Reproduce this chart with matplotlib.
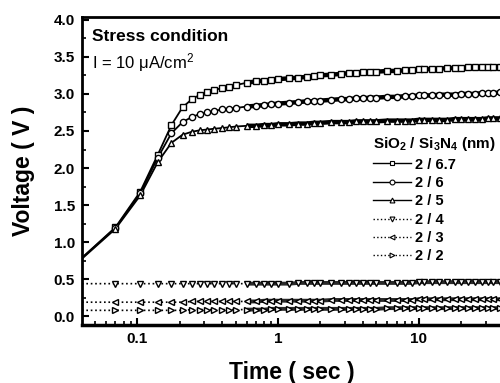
import matplotlib
matplotlib.use("Agg")
import matplotlib.pyplot as plt
from matplotlib.ticker import FixedLocator, MultipleLocator, LogLocator, NullFormatter, FuncFormatter
from matplotlib.lines import Line2D

plt.rcParams['font.family'] = ['Liberation Sans', 'DejaVu Sans']
plt.rcParams['mathtext.fontset'] = 'custom'
plt.rcParams['mathtext.rm'] = 'Liberation Sans'
plt.rcParams['mathtext.bf'] = 'Liberation Sans:bold'
plt.rcParams['mathtext.it'] = 'Liberation Sans:italic'

# ---- data ----
time_s = [0.035, 0.07, 0.105, 0.14, 0.175, 0.21, 0.245, 0.28, 0.315, 0.35, 0.4, 0.45, 0.5,
          0.6, 0.7, 0.8, 0.9, 1.0, 1.2, 1.4, 1.6, 1.8, 2.0, 2.4, 2.8, 3.2, 3.6, 4.0, 4.5, 5,
          6, 7, 8, 9, 10, 11, 12.5, 14, 16, 18, 20, 22.5, 25, 28, 31, 34, 38]

v_2_67 = [0.68, 1.20, 1.68, 2.18, 2.58, 2.82, 2.93, 2.99, 3.02, 3.05, 3.08, 3.10, 3.12,
          3.15, 3.17, 3.18, 3.19, 3.20, 3.21, 3.22, 3.23, 3.24, 3.25, 3.26, 3.27, 3.28, 3.28, 3.29, 3.29, 3.30,
          3.31, 3.31, 3.32, 3.32, 3.33, 3.33, 3.34, 3.34, 3.35, 3.35, 3.35, 3.36, 3.36, 3.36, 3.37, 3.37, 3.37]
v_2_6 = [0.68, 1.19, 1.66, 2.14, 2.47, 2.62, 2.69, 2.73, 2.75, 2.77, 2.79, 2.80, 2.81,
         2.83, 2.84, 2.85, 2.86, 2.87, 2.88, 2.89, 2.90, 2.90, 2.91, 2.92, 2.93, 2.93, 2.94, 2.94, 2.95, 2.95,
         2.96, 2.96, 2.97, 2.97, 2.98, 2.98, 2.98, 2.99, 2.99, 2.99, 3.00, 3.00, 3.00, 3.01, 3.01, 3.01, 3.02]
v_2_5 = [0.67, 1.18, 1.63, 2.08, 2.34, 2.45, 2.49, 2.51, 2.52, 2.53, 2.54, 2.55, 2.56,
         2.57, 2.57, 2.58, 2.58, 2.59, 2.59, 2.60, 2.60, 2.61, 2.61, 2.62, 2.62, 2.62, 2.63, 2.63, 2.63, 2.63,
         2.64, 2.64, 2.64, 2.64, 2.65, 2.65, 2.65, 2.65, 2.65, 2.66, 2.66, 2.66, 2.66, 2.66, 2.67, 2.67, 2.67]
v_2_4 = [0.44, 0.44, 0.44, 0.44, 0.44, 0.44, 0.44, 0.44, 0.44, 0.44, 0.44, 0.44, 0.44,
         0.44, 0.44, 0.44, 0.44, 0.44, 0.44, 0.45, 0.45, 0.45, 0.45, 0.45, 0.45, 0.45, 0.45, 0.45, 0.45, 0.45,
         0.45, 0.45, 0.45, 0.45, 0.46, 0.46, 0.46, 0.46, 0.46, 0.46, 0.46, 0.46, 0.46, 0.46, 0.46, 0.46, 0.46]
v_2_3 = [0.19, 0.19, 0.19, 0.19, 0.19, 0.19, 0.20, 0.20, 0.20, 0.20, 0.20, 0.20, 0.20,
         0.20, 0.20, 0.21, 0.21, 0.21, 0.21, 0.21, 0.21, 0.21, 0.21, 0.22, 0.22, 0.22, 0.22, 0.22, 0.22, 0.22,
         0.22, 0.22, 0.22, 0.22, 0.23, 0.23, 0.23, 0.23, 0.23, 0.23, 0.23, 0.23, 0.23, 0.23, 0.23, 0.23, 0.23]
v_2_2 = [0.08, 0.08, 0.08, 0.08, 0.08, 0.08, 0.09, 0.09, 0.09, 0.09, 0.09, 0.09, 0.09,
         0.09, 0.09, 0.09, 0.10, 0.10, 0.10, 0.10, 0.10, 0.10, 0.10, 0.10, 0.10, 0.10, 0.10, 0.10, 0.10, 0.10,
         0.11, 0.11, 0.11, 0.11, 0.11, 0.11, 0.11, 0.11, 0.11, 0.11, 0.11, 0.11, 0.11, 0.11, 0.11, 0.11, 0.11]

series_labels = ['2 / 6.7', '2 / 6', '2 / 5', '2 / 4', '2 / 3', '2 / 2']
series_values = [v_2_67, v_2_6, v_2_5, v_2_4, v_2_3, v_2_2]
series_markers = ['s', 'o', '^', 'v', '<', '>']
series_styles = ['-', '-', '-', ':', ':', ':']

x_ticks = [0.1, 1, 10]
x_tick_labels = ['0.1', '1', '10']
y_ticks = [0.0, 0.5, 1.0, 1.5, 2.0, 2.5, 3.0, 3.5, 4.0]

fig = plt.figure(figsize=(5.0, 3.83), dpi=100)
ax = fig.add_axes([0.164, 0.151, 0.838, 0.805])

band_start = 13  # from here on the dense markers merge into a dark band
handles = []
for vals, lab, mk, ls in zip(series_values, series_labels, series_markers, series_styles):
    ax.plot(time_s, vals, linestyle=ls, color='black', lw=1.3 if ls == '-' else 1.2,
            zorder=2)
    ax.plot(time_s[band_start:], vals[band_start:], linestyle='-',
            color='black' if ls == '-' else '#2a2a2a', lw=3.2 if ls == '-' else 2.8,
            zorder=2, solid_capstyle='butt')
    ax.plot(time_s[1:], vals[1:], linestyle='none', marker=mk, ms=4.5,
            mfc='white', mec='black', mew=1.0, zorder=3)
    handles.append(Line2D([], [], linestyle=ls, color='black', lw=1.0, marker=mk, ms=3.5,
                          mfc='white', mec='black', mew=0.8, label=lab))

ax.set_xscale('log')
ax.set_xlim(0.0405, 38.5)
ax.set_ylim(-0.12, 4.04)

ax.xaxis.set_major_locator(FixedLocator(x_ticks))
ax.xaxis.set_major_formatter(FuncFormatter(lambda v, p: x_tick_labels[x_ticks.index(v)] if v in x_ticks else ''))
ax.xaxis.set_minor_locator(LogLocator(base=10, subs=range(2, 10)))
ax.xaxis.set_minor_formatter(NullFormatter())
ax.yaxis.set_major_locator(FixedLocator(y_ticks))
ax.yaxis.set_minor_locator(MultipleLocator(0.25))
ax.yaxis.set_major_formatter(FuncFormatter(lambda v, p: f'{v:.1f}'))

ax.tick_params(which='major', direction='in', length=5, width=1.5, labelsize=11, pad=5)
ax.tick_params(which='minor', direction='in', length=3, width=1.2)
ax.tick_params(top=False, right=False)
for lbl in ax.get_xticklabels() + ax.get_yticklabels():
    lbl.set_fontweight('bold')

ax.spines['left'].set_linewidth(2.0)
ax.spines['bottom'].set_linewidth(2.5)
ax.spines['top'].set_linewidth(2.0)
ax.spines['right'].set_visible(False)

ax.set_xlabel('Time ( sec )', fontsize=16.5, fontweight='bold')
ax.set_ylabel('Voltage ( V )', fontsize=16.5, fontweight='bold')
ax.xaxis.set_label_coords(0.5, -0.115)
ax.yaxis.set_label_coords(-0.112, 0.5)

ax.text(0.025, 0.962, 'Stress condition', transform=ax.transAxes, fontsize=12.5,
        fontweight='bold', va='top', ha='left')
ax.text(0.025, 0.888, 'I = 10 μA/cm$^2$', transform=ax.transAxes, fontsize=12,
        va='top', ha='left')

leg = ax.legend(handles=handles, loc='upper left', bbox_to_anchor=(0.68, 0.635),
                frameon=False, fontsize=10.5, title=r'$\mathbf{SiO_2\ /\ Si_3N_4\ (nm)}$',
                title_fontsize=11, handlelength=2.6, handletextpad=0.3, labelspacing=0.3,
                borderaxespad=0, alignment='left')
for t in leg.get_texts():
    t.set_fontweight('bold')

fig.savefig('out.png', dpi=100)
